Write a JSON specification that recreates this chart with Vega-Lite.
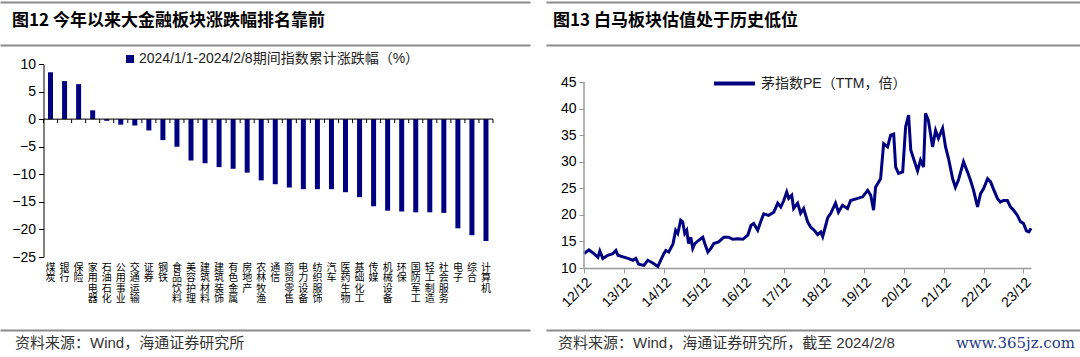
{
  "$schema": "https://vega.github.io/schema/vega-lite/v6.json",
  "padding": {"left": 0, "top": 2, "right": 0, "bottom": 0},
  "background": "white",
  "spacing": 7,
  "config": {
    "view": {"stroke": null},
    "font": "Liberation Sans, Noto Sans CJK SC, sans-serif"
  },
  "vconcat": [
    {
      "spacing": 16,
      "hconcat": [
        {
          "width": 530,
          "height": 43,
          "data": {"values": [{"t": "图12 今年以来大金融板块涨跌幅排名靠前"}]},
          "mark": {"type": "text", "align": "left", "baseline": "middle", "dx": 12, "dy": -3, "fontSize": 17, "fontWeight": "bold", "font": "Noto Sans CJK SC", "color": "#000000"},
          "encoding": {
            "text": {"field": "t"},
            "x": {"datum": 0, "type": "quantitative", "scale": {"domain": [0, 1]}, "axis": null},
            "y": {"datum": 0.5, "type": "quantitative", "scale": {"domain": [0, 1]}, "axis": {"values": [0, 1], "grid": true, "gridColor": "#8a8a8a", "gridWidth": 2, "domain": false, "ticks": false, "labels": false, "title": null, "minExtent": 0, "maxExtent": 0}}
          }
        },
        {
          "width": 534,
          "height": 43,
          "data": {"values": [{"t": "图13 白马板块估值处于历史低位"}]},
          "mark": {"type": "text", "align": "left", "baseline": "middle", "dx": 7, "dy": -3, "fontSize": 17, "fontWeight": "bold", "font": "Noto Sans CJK SC", "color": "#000000"},
          "encoding": {
            "text": {"field": "t"},
            "x": {"datum": 0, "type": "quantitative", "scale": {"domain": [0, 1]}, "axis": null},
            "y": {"datum": 0.5, "type": "quantitative", "scale": {"domain": [0, 1]}, "axis": {"values": [0, 1], "grid": true, "gridColor": "#8a8a8a", "gridWidth": 2, "domain": false, "ticks": false, "labels": false, "title": null, "minExtent": 0, "maxExtent": 0}}
          }
        }
      ]
    },
    {
      "spacing": 53,
      "resolve": {"scale": {"color": "independent"}, "legend": {"color": "independent"}},
      "hconcat": [
        {
          "width": 493,
          "height": 193,
          "resolve": {"axis": {"x": "independent", "y": "independent"}},
          "data": {"values": [
            {"cat": "煤炭", "v": 8.5},
            {"cat": "银行", "v": 6.9},
            {"cat": "保险", "v": 6.35},
            {"cat": "家用电器", "v": 1.6},
            {"cat": "石油石化", "v": -0.3},
            {"cat": "公用事业", "v": -1.0},
            {"cat": "交通运输", "v": -1.15},
            {"cat": "证券", "v": -2.05},
            {"cat": "钢铁", "v": -3.8},
            {"cat": "食品饮料", "v": -5.0},
            {"cat": "美容护理", "v": -7.5},
            {"cat": "建筑材料", "v": -8.0},
            {"cat": "建筑装饰", "v": -8.7},
            {"cat": "有色金属", "v": -9.0},
            {"cat": "房地产", "v": -9.7},
            {"cat": "农林牧渔", "v": -11.1},
            {"cat": "通信", "v": -11.8},
            {"cat": "商贸零售", "v": -12.4},
            {"cat": "电力设备", "v": -12.7},
            {"cat": "纺织服饰", "v": -12.7},
            {"cat": "汽车", "v": -12.7},
            {"cat": "医药生物", "v": -13.25},
            {"cat": "基础化工", "v": -14.15},
            {"cat": "传媒", "v": -15.8},
            {"cat": "机械设备", "v": -16.6},
            {"cat": "环保", "v": -16.75},
            {"cat": "国防军工", "v": -16.9},
            {"cat": "轻工制造", "v": -16.9},
            {"cat": "社会服务", "v": -17.0},
            {"cat": "电子", "v": -19.8},
            {"cat": "综合", "v": -21.05},
            {"cat": "计算机", "v": -22.1}
          ]},
          "layer": [
            {
              "mark": {"type": "bar", "width": 5},
              "encoding": {
                "x": {"field": "cat", "type": "nominal", "sort": null, "scale": {"paddingInner": 0, "paddingOuter": 0, "range": [43.5, 493]},
                  "axis": {"title": null, "domain": false, "ticks": false, "labelAngle": 0, "labelExpr": "split(datum.label, '')", "labelFont": "Noto Sans CJK SC", "labelFontSize": 10, "labelLineHeight": 10.5, "labelBaseline": "top", "labelAlign": "center", "labelPadding": 5, "labelColor": "#000000", "labelOverlap": false, "minExtent": 66}},
                "y": {"field": "v", "type": "quantitative", "scale": {"domain": [-25, 10]},
                  "axis": {"values": [-25, -20, -15, -10, -5, 0, 5, 10], "title": null, "grid": false, "offset": -43.5, "domainColor": "#000000", "tickColor": "#000000", "tickSize": 5, "labelFontSize": 14, "labelFont": "Liberation Sans", "labelColor": "#000000", "labelPadding": 3, "labelOverlap": false, "labelFlush": false, "minExtent": 0}},
                "color": {"datum": "2024/1/1-2024/2/8期间指数累计涨跌幅（%）", "scale": {"range": ["#000080"]},
                  "legend": {"orient": "none", "legendX": 123, "legendY": -12, "title": null, "symbolType": "square", "symbolSize": 64, "symbolStrokeWidth": 0, "labelFontSize": 14, "labelFont": "Liberation Sans, Noto Sans CJK SC", "labelColor": "#222222", "labelLimit": 500, "padding": 0, "labelOffset": 2}}
              }
            },
            {
              "mark": {"type": "tick", "orient": "horizontal", "color": "#000000", "thickness": 1.5, "size": 14.1},
              "encoding": {
                "x": {"field": "cat", "type": "nominal", "sort": null, "axis": null},
                "y": {"datum": 0, "type": "quantitative", "axis": null}
              }
            },
            {
              "mark": {"type": "rule", "color": "#000000", "strokeWidth": 1},
              "encoding": {
                "x": {"field": "cat", "type": "nominal", "sort": null, "bandPosition": 0, "axis": null},
                "y": {"datum": 0, "type": "quantitative", "axis": null},
                "y2": {"datum": -0.7}
              }
            },
            {
              "transform": [{"filter": "datum.cat === '计算机'"}],
              "mark": {"type": "rule", "color": "#000000", "strokeWidth": 1},
              "encoding": {
                "x": {"field": "cat", "type": "nominal", "sort": null, "bandPosition": 1, "axis": null},
                "y": {"datum": 0, "type": "quantitative", "axis": null},
                "y2": {"datum": -0.7}
              }
            }
          ]
        },
        {
          "width": 447,
          "height": 204,
          "resolve": {"axis": {"x": "independent", "y": "independent"}},
          "layer": [
            {
              "data": {"values": [
                {"date": "2012-12-01", "pe": 12.7},
                {"date": "2012-12-20", "pe": 13.0},
                {"date": "2013-01-15", "pe": 13.4},
                {"date": "2013-02-10", "pe": 13.0},
                {"date": "2013-03-01", "pe": 12.7},
                {"date": "2013-04-07", "pe": 12.0},
                {"date": "2013-04-25", "pe": 13.2},
                {"date": "2013-05-22", "pe": 11.8},
                {"date": "2013-07-07", "pe": 12.4},
                {"date": "2013-08-22", "pe": 12.7},
                {"date": "2013-09-19", "pe": 13.3},
                {"date": "2013-10-07", "pe": 12.4},
                {"date": "2013-11-22", "pe": 12.1},
                {"date": "2014-01-07", "pe": 11.8},
                {"date": "2014-02-22", "pe": 11.45},
                {"date": "2014-03-19", "pe": 11.8},
                {"date": "2014-04-15", "pe": 10.7},
                {"date": "2014-06-01", "pe": 10.5},
                {"date": "2014-07-07", "pe": 11.45},
                {"date": "2014-08-22", "pe": 10.95},
                {"date": "2014-10-07", "pe": 10.3},
                {"date": "2014-10-25", "pe": 11.1},
                {"date": "2014-12-01", "pe": 12.7},
                {"date": "2014-12-19", "pe": 13.3},
                {"date": "2015-01-15", "pe": 13.0},
                {"date": "2015-02-22", "pe": 14.5},
                {"date": "2015-03-19", "pe": 17.1},
                {"date": "2015-04-07", "pe": 16.5},
                {"date": "2015-05-04", "pe": 19.0},
                {"date": "2015-05-22", "pe": 18.7},
                {"date": "2015-06-10", "pe": 16.5},
                {"date": "2015-06-28", "pe": 17.1},
                {"date": "2015-07-15", "pe": 14.6},
                {"date": "2015-08-04", "pe": 15.8},
                {"date": "2015-08-22", "pe": 13.7},
                {"date": "2015-09-10", "pe": 14.6},
                {"date": "2015-10-15", "pe": 15.2},
                {"date": "2015-11-22", "pe": 15.8},
                {"date": "2015-12-10", "pe": 14.6},
                {"date": "2016-01-07", "pe": 13.0},
                {"date": "2016-02-04", "pe": 13.7},
                {"date": "2016-03-01", "pe": 14.6},
                {"date": "2016-04-15", "pe": 14.9},
                {"date": "2016-06-01", "pe": 15.8},
                {"date": "2016-07-15", "pe": 15.8},
                {"date": "2016-08-22", "pe": 15.4},
                {"date": "2016-10-07", "pe": 15.5},
                {"date": "2016-11-22", "pe": 15.4},
                {"date": "2017-01-07", "pe": 16.2},
                {"date": "2017-02-04", "pe": 18.0},
                {"date": "2017-03-01", "pe": 18.4},
                {"date": "2017-04-07", "pe": 17.1},
                {"date": "2017-05-04", "pe": 18.7},
                {"date": "2017-06-01", "pe": 20.2},
                {"date": "2017-07-15", "pe": 19.9},
                {"date": "2017-09-01", "pe": 20.5},
                {"date": "2017-10-07", "pe": 22.2},
                {"date": "2017-11-04", "pe": 21.5},
                {"date": "2017-12-01", "pe": 22.7},
                {"date": "2017-12-28", "pe": 24.3},
                {"date": "2018-01-15", "pe": 23.1},
                {"date": "2018-02-12", "pe": 23.7},
                {"date": "2018-03-01", "pe": 21.2},
                {"date": "2018-04-07", "pe": 22.2},
                {"date": "2018-05-04", "pe": 20.3},
                {"date": "2018-06-01", "pe": 21.2},
                {"date": "2018-07-07", "pe": 18.7},
                {"date": "2018-08-04", "pe": 17.7},
                {"date": "2018-09-01", "pe": 17.2},
                {"date": "2018-10-07", "pe": 16.3},
                {"date": "2018-11-04", "pe": 16.8},
                {"date": "2018-11-22", "pe": 15.9},
                {"date": "2018-12-19", "pe": 18.0},
                {"date": "2019-01-07", "pe": 19.5},
                {"date": "2019-02-04", "pe": 20.3},
                {"date": "2019-03-19", "pe": 22.2},
                {"date": "2019-04-15", "pe": 20.5},
                {"date": "2019-05-22", "pe": 21.8},
                {"date": "2019-07-07", "pe": 21.2},
                {"date": "2019-08-04", "pe": 22.7},
                {"date": "2019-10-07", "pe": 23.1},
                {"date": "2019-11-22", "pe": 23.4},
                {"date": "2020-01-07", "pe": 24.6},
                {"date": "2020-02-04", "pe": 23.7},
                {"date": "2020-03-01", "pe": 20.9},
                {"date": "2020-03-19", "pe": 25.2},
                {"date": "2020-05-04", "pe": 26.8},
                {"date": "2020-06-01", "pe": 33.4},
                {"date": "2020-07-07", "pe": 32.8},
                {"date": "2020-08-04", "pe": 35.0},
                {"date": "2020-09-01", "pe": 35.2},
                {"date": "2020-09-19", "pe": 29.0},
                {"date": "2020-10-15", "pe": 27.8},
                {"date": "2020-11-22", "pe": 28.1},
                {"date": "2020-12-19", "pe": 36.6},
                {"date": "2021-01-15", "pe": 38.8},
                {"date": "2021-02-04", "pe": 32.2},
                {"date": "2021-03-01", "pe": 30.6},
                {"date": "2021-04-07", "pe": 28.3},
                {"date": "2021-05-04", "pe": 30.3},
                {"date": "2021-06-01", "pe": 29.0},
                {"date": "2021-06-19", "pe": 39.1},
                {"date": "2021-07-15", "pe": 37.8},
                {"date": "2021-08-22", "pe": 32.8},
                {"date": "2021-09-19", "pe": 35.9},
                {"date": "2021-10-15", "pe": 34.4},
                {"date": "2021-11-22", "pe": 36.3},
                {"date": "2021-12-19", "pe": 32.8},
                {"date": "2022-01-15", "pe": 30.6},
                {"date": "2022-02-22", "pe": 26.8},
                {"date": "2022-03-19", "pe": 25.2},
                {"date": "2022-04-15", "pe": 26.5},
                {"date": "2022-06-01", "pe": 30.0},
                {"date": "2022-07-07", "pe": 28.1},
                {"date": "2022-08-04", "pe": 26.5},
                {"date": "2022-09-01", "pe": 24.6},
                {"date": "2022-10-07", "pe": 21.5},
                {"date": "2022-11-04", "pe": 24.0},
                {"date": "2022-12-01", "pe": 24.9},
                {"date": "2023-01-07", "pe": 26.8},
                {"date": "2023-02-04", "pe": 26.2},
                {"date": "2023-03-01", "pe": 24.9},
                {"date": "2023-04-07", "pe": 23.1},
                {"date": "2023-05-04", "pe": 22.4},
                {"date": "2023-06-01", "pe": 22.7},
                {"date": "2023-07-07", "pe": 22.7},
                {"date": "2023-08-04", "pe": 21.5},
                {"date": "2023-09-01", "pe": 20.9},
                {"date": "2023-10-07", "pe": 19.9},
                {"date": "2023-11-04", "pe": 18.7},
                {"date": "2023-12-01", "pe": 18.4},
                {"date": "2023-12-28", "pe": 17.0},
                {"date": "2024-01-20", "pe": 16.8},
                {"date": "2024-02-08", "pe": 17.5}
              ]},
              "mark": {"type": "line", "strokeWidth": 3},
              "encoding": {
                "x": {"field": "date", "type": "temporal",
                  "scale": {"domain": [{"year": 2012, "month": 12, "date": 1}, {"year": 2024, "month": 2, "date": 8}]},
                  "axis": {"values": [
                    {"year": 2012, "month": 12, "date": 1}, {"year": 2013, "month": 12, "date": 1}, {"year": 2014, "month": 12, "date": 1},
                    {"year": 2015, "month": 12, "date": 1}, {"year": 2016, "month": 12, "date": 1}, {"year": 2017, "month": 12, "date": 1},
                    {"year": 2018, "month": 12, "date": 1}, {"year": 2019, "month": 12, "date": 1}, {"year": 2020, "month": 12, "date": 1},
                    {"year": 2021, "month": 12, "date": 1}, {"year": 2022, "month": 12, "date": 1}, {"year": 2023, "month": 12, "date": 1}],
                    "format": "%y/%m", "labelAngle": -45, "title": null, "grid": false, "domainColor": "#999999", "domainWidth": 1.5, "tickColor": "#999999", "tickSize": 5, "labelFontSize": 14, "labelFont": "Liberation Sans", "labelColor": "#000000", "labelPadding": 2, "labelFlush": false, "labelOverlap": false}},
                "y": {"field": "pe", "type": "quantitative", "scale": {"domain": [10, 48.4], "nice": false},
                  "axis": {"values": [10, 15, 20, 25, 30, 35, 40, 45], "title": null, "grid": false, "domain": false, "tickColor": "#999999", "tickSize": 5, "labelFontSize": 14, "labelFont": "Liberation Sans", "labelColor": "#000000", "labelPadding": 3, "labelOverlap": false, "labelFlush": false, "minExtent": 37}},
                "color": {"datum": "茅指数PE（TTM，倍）", "scale": {"range": ["#000080"]},
                  "legend": {"orient": "none", "legendX": 128, "legendY": -3, "title": null, "symbolType": "M-1,0H1", "symbolSize": 1681, "symbolStrokeWidth": 4, "labelFontSize": 14, "labelFont": "Liberation Sans, Noto Sans CJK SC", "labelColor": "#222222", "labelLimit": 500, "padding": 0, "labelOffset": 4}}
              }
            },
            {
              "data": {"values": [{}]},
              "mark": {"type": "rule", "color": "#999999", "strokeWidth": 1.5},
              "encoding": {
                "x": {"datum": {"year": 2012, "month": 12, "date": 1}, "type": "temporal", "axis": null},
                "y": {"datum": 10, "type": "quantitative", "axis": null},
                "y2": {"datum": 45}
              }
            }
          ]
        }
      ]
    },
    {
      "spacing": 16,
      "hconcat": [
        {
          "width": 530,
          "height": 26,
          "data": {"values": [{"t": "资料来源：Wind，海通证券研究所"}]},
          "mark": {"type": "text", "align": "left", "baseline": "middle", "dx": 15, "fontSize": 15, "font": "Liberation Sans, Noto Sans CJK SC", "color": "#333333"},
          "encoding": {
            "text": {"field": "t"},
            "x": {"datum": 0, "type": "quantitative", "scale": {"domain": [0, 1]}, "axis": null},
            "y": {"datum": 0.5, "type": "quantitative", "scale": {"domain": [0, 1]}, "axis": {"values": [1], "grid": true, "gridColor": "#8a8a8a", "gridWidth": 2, "domain": false, "ticks": false, "labels": false, "title": null, "minExtent": 0, "maxExtent": 0}}
          }
        },
        {
          "width": 534,
          "height": 26,
          "layer": [
            {
              "data": {"values": [{"t": "资料来源：Wind，海通证券研究所，截至 2024/2/8"}]},
              "mark": {"type": "text", "align": "left", "baseline": "middle", "dx": 12, "fontSize": 15, "font": "Liberation Sans, Noto Sans CJK SC", "color": "#333333"},
              "encoding": {
                "text": {"field": "t"},
                "x": {"datum": 0, "type": "quantitative", "scale": {"domain": [0, 1]}, "axis": null},
                "y": {"datum": 0.5, "type": "quantitative", "scale": {"domain": [0, 1]}, "axis": {"values": [1], "grid": true, "gridColor": "#8a8a8a", "gridWidth": 2, "domain": false, "ticks": false, "labels": false, "title": null, "minExtent": 0, "maxExtent": 0}}
              }
            },
            {
              "data": {"values": [{"t": "www.365jz.com"}]},
              "mark": {"type": "text", "align": "right", "baseline": "middle", "dx": -5, "fontSize": 15, "font": "DejaVu Serif", "color": "#1f3a86"},
              "encoding": {
                "text": {"field": "t"},
                "x": {"datum": 1, "type": "quantitative"},
                "y": {"datum": 0.5, "type": "quantitative"}
              }
            }
          ]
        }
      ]
    }
  ]
}
